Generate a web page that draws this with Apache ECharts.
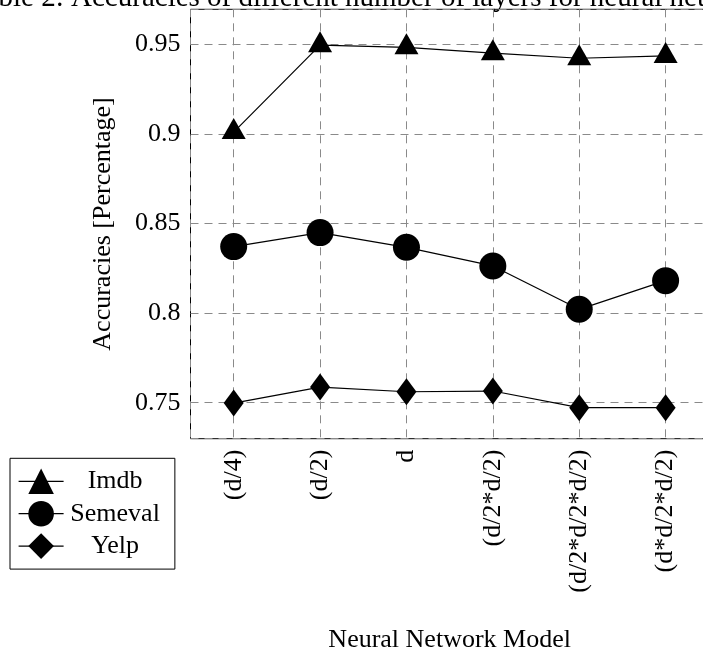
<!DOCTYPE html>
<html>
<head>
<meta charset="utf-8">
<script src="https://cdn.jsdelivr.net/npm/echarts@6/dist/echarts.min.js"></script>
<style>
html,body{margin:0;padding:0;background:#fff;}
#chart{width:703px;height:658px;}
</style>
</head>
<body>
<div id="chart"></div>
<script>
const titleText = 'Table 2: Accuracies of different number of layers for neural network';
const categories = ['(d/4)', '(d/2)', 'd', '(d/2*d/2)', '(d/2*d/2*d/2)', '(d*d/2*d/2)'];
const seriesNames = ['Imdb', 'Semeval', 'Yelp'];
const imdb = [0.901, 0.9495, 0.9483, 0.945, 0.9422, 0.9435];
const semeval = [0.8371, 0.8449, 0.8367, 0.8263, 0.8021, 0.8181];
const yelp = [0.7498, 0.7587, 0.7561, 0.7565, 0.7472, 0.7472];
const yMin = 0.7299, yMax = 0.9695;

const FONT = 'Liberation Serif';
const FS = 26;
const toPairs = arr => arr.map((v, i) => [i, v]);

const chart = echarts.init(document.getElementById('chart'), null, {renderer: 'canvas'});
const gridLine = {show: true, lineStyle: {color: '#8a8a8a', width: 1, type: [8, 6]}};
const lineSeries = (name, data, symbol, size, offset) => ({
  name, type: 'line', data: toPairs(data), symbol, symbolSize: size, symbolOffset: offset || [0, 0],
  itemStyle: {color: '#000'}, lineStyle: {color: '#000', width: 1.2},
  emphasis: {disabled: true}, clip: false, z: 3
});

chart.setOption({
  animation: false,
  backgroundColor: '#fff',
  textStyle: {fontFamily: FONT, color: '#000'},
  graphic: [{
    type: 'text', x: -30, y: 13,
    style: {text: titleText, fontFamily: FONT, fontSize: 29, fill: '#000', align: 'left', verticalAlign: 'bottom'}
  }],
  grid: {left: 190.5, top: 9.3, width: 518.3, height: 429.4, show: true, borderColor: '#000', borderWidth: 1,
         containLabel: false, outerBoundsMode: 'none'},
  xAxis: {
    type: 'value', min: -0.5, max: 5.5, splitNumber: 6,
    axisLine: {show: false}, axisTick: {show: false},
    splitLine: gridLine,
    axisLabel: {
      rotate: 90, margin: 11, fontFamily: FONT, fontSize: FS, color: '#000',
      showMinLabel: false, showMaxLabel: false,
      formatter: v => (Number.isInteger(v) && categories[v] !== undefined) ? categories[v] : ''
    },
    name: 'Neural Network Model', nameLocation: 'middle', nameGap: 188,
    nameTextStyle: {fontFamily: FONT, fontSize: FS, color: '#000'}
  },
  yAxis: {
    type: 'value', min: yMin, max: yMax, splitNumber: 5,
    axisLine: {show: false}, axisTick: {show: false},
    splitLine: gridLine,
    axisLabel: {margin: 10, fontFamily: FONT, fontSize: FS, color: '#000', showMinLabel: false, showMaxLabel: false},
    name: 'Accuracies [Percentage]', nameLocation: 'middle', nameGap: 74,
    nameTextStyle: {fontFamily: FONT, fontSize: FS, color: '#000'}
  },
  legend: {
    orient: 'vertical', left: 10, top: 458.3,
    padding: [10, 15, 10, 8],
    itemWidth: 45, itemHeight: 32, itemGap: 6.4,
    borderColor: '#000', borderWidth: 1, backgroundColor: '#fff',
    data: seriesNames,
    formatter: n => '{a|' + n + '}',
    textStyle: {fontFamily: FONT, fontSize: FS, color: '#000', rich: {a: {width: 93, align: 'center', fontFamily: FONT, fontSize: FS}}},
    lineStyle: {color: '#000', width: 1.2},
    selectedMode: false
  },
  series: [
    lineSeries(seriesNames[0], imdb, 'triangle', [24, 21], [0, -3.5]),
    lineSeries(seriesNames[1], semeval, 'circle', 27),
    lineSeries(seriesNames[2], yelp, 'diamond', [20, 27])
  ]
});
</script>
</body>
</html>
